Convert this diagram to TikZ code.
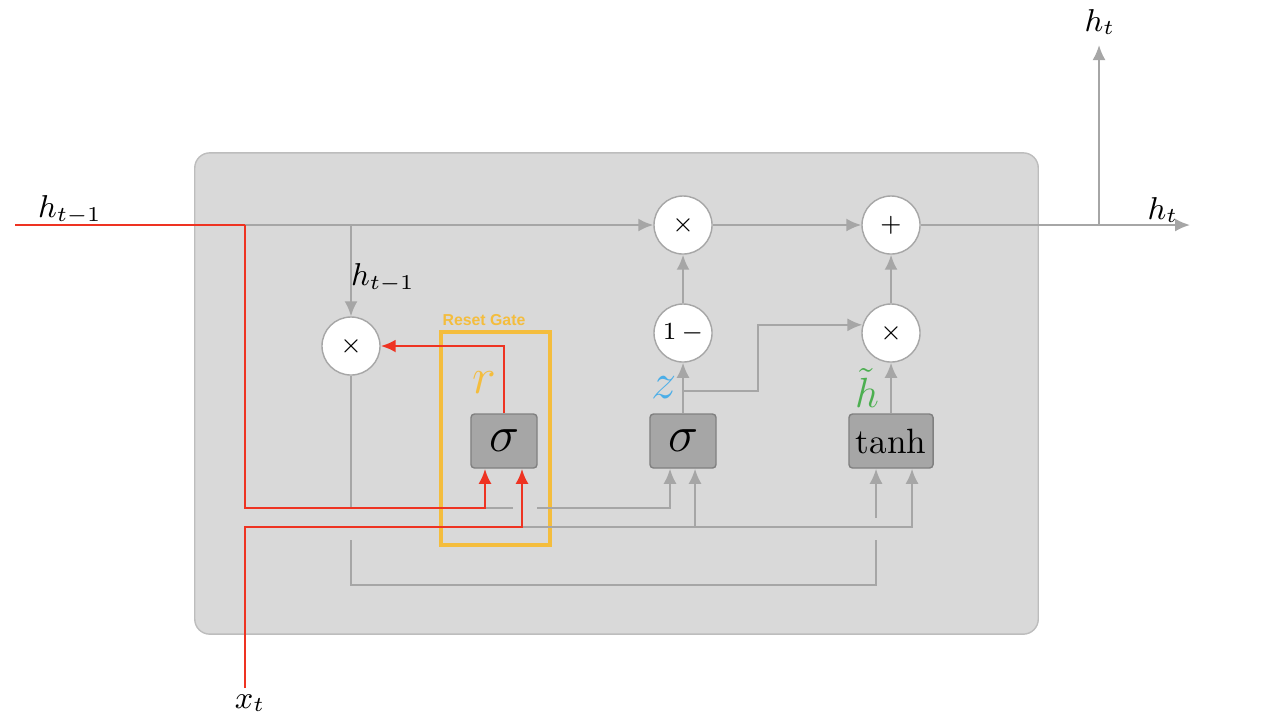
\documentclass[tikz,border=0pt]{standalone}
\usepackage{fontspec}
\usepackage{tikz}
\usetikzlibrary{arrows.meta,positioning,calc}
\newfontfamily\gatelabelfont{Liberation Sans}
\definecolor{cellbg}{HTML}{D9D9D9}
\definecolor{cellborder}{HTML}{BDBDBD}
\definecolor{wire}{HTML}{A6A6A6}
\definecolor{gatefill}{HTML}{A6A6A6}
\definecolor{gateborder}{HTML}{808080}
\definecolor{redwire}{HTML}{EE3322}
\definecolor{resetcol}{HTML}{F4BD3D}
\definecolor{zcol}{HTML}{4BAEE8}
\definecolor{hcol}{HTML}{4CAF50}

\begin{document}
\begin{tikzpicture}[
  x=0.01cm, y=-0.01cm,
  op/.style={circle, draw=wire, fill=white, minimum size=0.58cm, inner sep=0pt, font=\scriptsize},
  gate/.style={draw=gateborder, fill=gatefill, rounded corners=1pt, minimum width=0.66cm, minimum height=0.54cm, inner sep=0pt},
  wireline/.style={draw=wire, line width=0.6pt},
  arrow/.style={wireline, -{Latex[length=1.5mm,width=1.3mm]}},
  redline/.style={draw=redwire, line width=0.75pt},
  redarrow/.style={redline, -{Latex[length=1.5mm,width=1.3mm]}},
  lbl/.style={font=\small},
  varlbl/.style={font=\Large, inner sep=0pt}
]
\useasboundingbox (0,0) rectangle (1280,726);

\node[draw=cellborder, fill=cellbg, rounded corners=0.15cm, minimum width=8.43cm, minimum height=4.81cm] (cell) at (616.5,393.5) {};

\node[op] (rmul) at (351,346) {$\times$};
\node[op] (zmul) at (683,225) {$\times$};
\node[op] (plus) at (891,225) {$+$};
\node[op] (oneminus) at (683,333) {$1\,-$};
\node[op] (hmul) at (891,333) {$\times$};
\node[gate, font=\Large] (rgate) at (504,441) {$\sigma$};
\node[gate, font=\Large] (zgate) at (683,441) {$\sigma$};
\node[gate, minimum width=0.84cm] (hgate) at (891,441) {tanh};

\node[draw=resetcol, line width=1.1pt, minimum width=1.09cm, minimum height=2.13cm] (resetbox) at (495.5,438.5) {};
\node[text=resetcol, font=\gatelabelfont\bfseries\fontsize{4.5}{5}\selectfont] (resetlabel) at (484,320) {Reset Gate};

\node[lbl] (hprevlabel) at (70,210) {$h_{t-1}$};
\node[lbl] (hprevinner) at (383,278) {$h_{t-1}$};
\node[lbl] (htoplabel) at (1100,22) {$h_t$};
\node[lbl] (houtlabel) at (1163,210) {$h_t$};
\node[lbl] (xlabel) at (250,703) {$x_t$};
\node[varlbl, text=resetcol] (rlabel) at (484,383) {$r$};
\node[varlbl, text=zcol] (zlabel) at (664,388) {$z$};
\node[varlbl, font=\large, text=hcol] (hlabel) at (867,388) {$\tilde{h}$};

\coordinate (hin) at (15,225);
\coordinate (hsplit) at (245,225);
\coordinate (rbranch) at (351,225);
\coordinate (rin1) at (485,508);
\coordinate (gapL) at (513,508);
\coordinate (gapR) at (537,508);
\coordinate (xin) at (245,688);
\coordinate (rin2) at (522,527);
\coordinate (zin2) at (695,527);
\coordinate (hin2) at (876,518);
\coordinate (brL) at (351,540);
\coordinate (brR) at (876,540);
\coordinate (zsplit) at (683,391);
\coordinate (hsplit2) at (1099,225);
\coordinate (hout) at (1190,225);
\coordinate (htop) at (1099,45);

\draw[arrow] (hsplit) -- (zmul.west);
\draw[arrow] (rbranch) -- (rmul.north);
\draw[wireline] (rmul.south) -- (rmul |- rin1);
\draw[wireline] (rin1) -- (gapL);
\draw[arrow] (gapR) -| ([xshift=-0.13cm]zgate.south);
\draw[arrow] (rin2) -| ([xshift=0.21cm]hgate.south);
\draw[arrow] (zin2) -- (zin2 |- zgate.south);
\draw[wireline] (brL) -- ++(0,45) -| (brR);
\draw[arrow] (hin2) -- (hin2 |- hgate.south);

\draw[redline] (hin) -- (hsplit);
\draw[redarrow] (hsplit) |- (rin1) -- (rin1 |- rgate.south);
\draw[redarrow] (xin) |- (rin2) -- (rin2 |- rgate.south);
\draw[redarrow] (rgate.north) |- (rmul.east);

\draw[arrow] (zgate.north) -- (oneminus.south);
\draw[arrow] (zsplit) -- ++(75,0) |- (hmul.164);
\draw[arrow] (oneminus.north) -- (zmul.south);
\draw[arrow] (zmul.east) -- (plus.west);
\draw[arrow] (hgate.north) -- (hmul.south);
\draw[arrow] (hmul.north) -- (plus.south);
\draw[arrow] (plus.east) -- (hout);
\draw[arrow] (hsplit2) -- (htop);

\end{tikzpicture}
\end{document}
